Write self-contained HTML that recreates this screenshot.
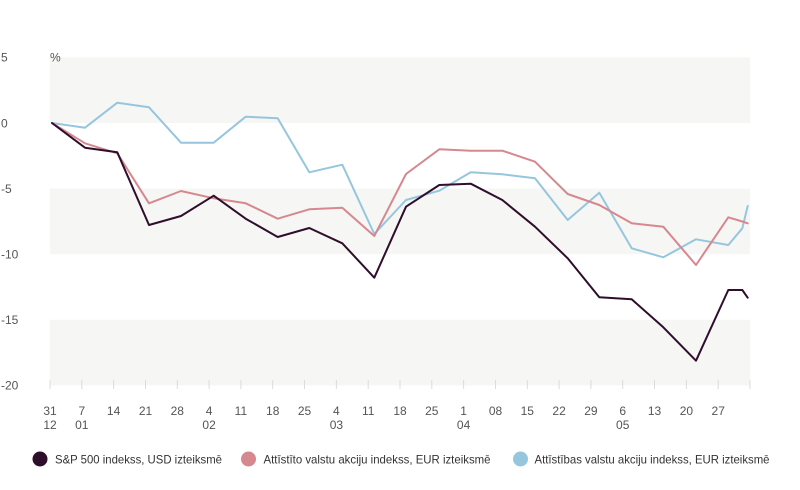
<!DOCTYPE html>
<html>
<head>
<meta charset="utf-8">
<style>
html,body{margin:0;padding:0;background:#fff;}
svg{display:block;}
text{font-family:"Liberation Sans",sans-serif;}
</style>
</head>
<body>
<svg width="800" height="490" viewBox="0 0 800 490" xmlns="http://www.w3.org/2000/svg">
  <!-- bands -->
  <rect x="50" y="57.4" width="700" height="65.6" fill="#f6f6f4"/>
  <rect x="50" y="188.6" width="700" height="65.6" fill="#f6f6f4"/>
  <rect x="50" y="319.8" width="700" height="65.6" fill="#f6f6f4"/>

  <!-- y labels -->
  <g font-size="12" fill="#555">
    <text x="1" y="61.5">5</text>
    <text x="1" y="127.5">0</text>
    <text x="1" y="193">-5</text>
    <text x="1" y="258.5">-10</text>
    <text x="1" y="324">-15</text>
    <text x="1" y="389.5">-20</text>
    <text x="50" y="61.5">%</text>
  </g>

  <!-- ticks -->
  <g stroke="#dcdcdc" stroke-width="1">
    <line x1="50" y1="380" x2="50" y2="389"/>
    <line x1="81.8" y1="380" x2="81.8" y2="389"/>
    <line x1="113.6" y1="380" x2="113.6" y2="389"/>
    <line x1="145.5" y1="380" x2="145.5" y2="389"/>
    <line x1="177.3" y1="380" x2="177.3" y2="389"/>
    <line x1="209.1" y1="380" x2="209.1" y2="389"/>
    <line x1="240.9" y1="380" x2="240.9" y2="389"/>
    <line x1="272.7" y1="380" x2="272.7" y2="389"/>
    <line x1="304.5" y1="380" x2="304.5" y2="389"/>
    <line x1="336.4" y1="380" x2="336.4" y2="389"/>
    <line x1="368.2" y1="380" x2="368.2" y2="389"/>
    <line x1="400" y1="380" x2="400" y2="389"/>
    <line x1="431.8" y1="380" x2="431.8" y2="389"/>
    <line x1="463.6" y1="380" x2="463.6" y2="389"/>
    <line x1="495.5" y1="380" x2="495.5" y2="389"/>
    <line x1="527.3" y1="380" x2="527.3" y2="389"/>
    <line x1="559.1" y1="380" x2="559.1" y2="389"/>
    <line x1="590.9" y1="380" x2="590.9" y2="389"/>
    <line x1="622.7" y1="380" x2="622.7" y2="389"/>
    <line x1="654.5" y1="380" x2="654.5" y2="389"/>
    <line x1="686.4" y1="380" x2="686.4" y2="389"/>
    <line x1="718.2" y1="380" x2="718.2" y2="389"/>
    <line x1="750" y1="380" x2="750" y2="389"/>
  </g>

  <!-- x labels -->
  <g font-size="12" fill="#555" text-anchor="middle">
    <text x="50" y="415">31</text>
    <text x="81.8" y="415">7</text>
    <text x="113.6" y="415">14</text>
    <text x="145.5" y="415">21</text>
    <text x="177.3" y="415">28</text>
    <text x="209.1" y="415">4</text>
    <text x="240.9" y="415">11</text>
    <text x="272.7" y="415">18</text>
    <text x="304.5" y="415">25</text>
    <text x="336.4" y="415">4</text>
    <text x="368.2" y="415">11</text>
    <text x="400" y="415">18</text>
    <text x="431.8" y="415">25</text>
    <text x="463.6" y="415">1</text>
    <text x="495.5" y="415">08</text>
    <text x="527.3" y="415">15</text>
    <text x="559.1" y="415">22</text>
    <text x="590.9" y="415">29</text>
    <text x="622.7" y="415">6</text>
    <text x="654.5" y="415">13</text>
    <text x="686.4" y="415">20</text>
    <text x="718.2" y="415">27</text>
    <text x="50" y="429">12</text>
    <text x="81.8" y="429">01</text>
    <text x="209.1" y="429">02</text>
    <text x="336.4" y="429">03</text>
    <text x="463.6" y="429">04</text>
    <text x="622.7" y="429">05</text>
  </g>

  <!-- series -->
  <g fill="none" stroke-width="2" stroke-linejoin="round" stroke-linecap="round">
    <polyline stroke="#96c6de" points="52,123 85,127.7 117.3,102.7 149,107.3 181,142.7 213.7,142.7 245.7,116.7 277.7,118.3 309.3,172.3 342.3,164.7 374.3,234 406,200 439.3,190.7 470.7,172.3 502.3,174.3 535,178.3 567.7,220 599.3,192.7 631.7,248.3 663.3,257.3 696,239.3 728.3,245 742.3,228.3 747.7,206"/>
    <polyline stroke="#d6888f" points="52,123 85,143.3 117.3,153.3 149,203.3 181,191 213.7,198.3 245.7,203.3 277.7,218.7 309.3,209.3 342.3,207.7 374.3,236 406,174 439.3,149.3 470.7,150.7 502.3,150.7 535,161.7 567.7,194 599.3,205 631.7,223.3 663.3,226.7 696,265 728.3,217.3 742.3,221.5 747.7,223.3"/>
    <polyline stroke="#2f0e2b" points="52,123 85,147.7 117.3,152.3 149,225 181,216 213.7,195.7 245.7,218.7 277.7,237 309.3,228 342.3,243.3 374.3,277.7 406,206.7 439.3,185 470.7,183.7 502.3,200 535,226.7 567.7,258.3 599.3,297.3 631.7,299.3 663.3,327.3 696,360.7 728.3,290 742.3,290 747.7,297.7"/>
  </g>

  <!-- legend -->
  <circle cx="40" cy="459" r="7.5" fill="#2f0e2b"/>
  <circle cx="248.5" cy="459" r="7.5" fill="#d6888f"/>
  <circle cx="520.5" cy="459" r="7.5" fill="#96c6de"/>
  <g font-size="12" fill="#333">
    <text x="55" y="463.5" textLength="167" lengthAdjust="spacingAndGlyphs">S&amp;P 500 indekss, USD izteiksmē</text>
    <text x="263.5" y="463.5" textLength="227" lengthAdjust="spacingAndGlyphs">Attīstīto valstu akciju indekss, EUR izteiksmē</text>
    <text x="534.5" y="463.5" textLength="235" lengthAdjust="spacingAndGlyphs">Attīstības valstu akciju indekss, EUR izteiksmē</text>
  </g>
</svg>
</body>
</html>
